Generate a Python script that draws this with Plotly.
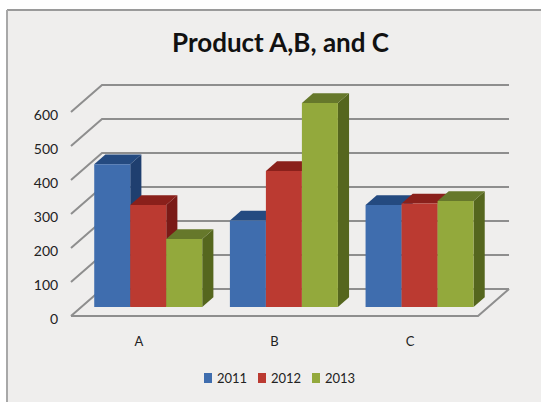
import plotly.graph_objects as go

# Sales per product and year
products = ["A", "B", "C"]
years = ["2011", "2012", "2013"]
sales_2011 = [420, 255, 300]
sales_2012 = [300, 400, 305]
sales_2013 = [200, 600, 312]
y_ticks = [0, 100, 200, 300, 400, 500, 600]

series = [sales_2011, sales_2012, sales_2013]
front_colors = ["#3F6DAE", "#BB3A31", "#93A93C"]
top_colors = ["#244A80", "#8A201B", "#66782B"]
side_colors = ["#1F3F6F", "#7A1A17", "#55661E"]
grid_color = "#8E8E8E"
text_color = "#222222"
panel_color = "#EFEEED"

W, H = 541, 402
# Oblique projection of the box: depth 0 is the front edge, depth 1 the back wall
PX_PER_CAT = 135.67
PX_PER_VAL = 0.34
DEPTH_X = 31 / PX_PER_CAT
DEPTH_Y = 27 / PX_PER_VAL
BAR_W = 36 / PX_PER_CAT
BAR_GAP = 13 / PX_PER_CAT
BAR_D0, BAR_D1 = 0.33, 0.69
L, R, T, B = 66, 515, 78, 322
ORIGIN_X, ORIGIN_Y = 71, 316
R_M = W - R
B_M = H - B


def proj(x, v, d):
    return x + d * DEPTH_X, v + d * DEPTH_Y


def polygon(points, color):
    xs, ys = zip(*[proj(*p) for p in points + points[:1]])
    return go.Scatter(x=xs, y=ys, mode="lines", fill="toself", fillcolor=color,
                      line=dict(width=0, color=color), hoverinfo="skip",
                      showlegend=False)


def line(points):
    xs, ys = zip(*[proj(*p) for p in points])
    return go.Scatter(x=xs, y=ys, mode="lines", line=dict(color=grid_color, width=2),
                      hoverinfo="skip", showlegend=False)


fig = go.Figure()
n_cat = len(products)

# Back wall gridlines and the matching diagonals on the side wall
for v in y_ticks:
    fig.add_trace(line([(0, v, 0), (0, v, 1), (n_cat, v, 1)]))
# Floor outline
fig.add_trace(line([(0, 0, 0), (n_cat, 0, 0), (n_cat, 0, 1)]))

# Bars, left to right so nearer neighbours cover the side faces
for c in range(n_cat):
    for s, values in enumerate(series):
        v = values[c]
        x0 = c + BAR_GAP + s * BAR_W
        x1 = x0 + BAR_W
        fig.add_trace(polygon([(x1, 0, BAR_D0), (x1, 0, BAR_D1), (x1, v, BAR_D1), (x1, v, BAR_D0)],
                              side_colors[s]))
        fig.add_trace(polygon([(x0, v, BAR_D0), (x1, v, BAR_D0), (x1, v, BAR_D1), (x0, v, BAR_D1)],
                              top_colors[s]))
        fig.add_trace(polygon([(x0, 0, BAR_D0), (x1, 0, BAR_D0), (x1, v, BAR_D0), (x0, v, BAR_D0)],
                              front_colors[s]))


def paper_x(px):
    return (px - L) / (W - L - R_M)


def paper_y(px):
    return (H - B_M - px) / (H - T - B_M)


# Panel behind the chart, with its darker top and left edges
shapes = [
    dict(type="rect", xref="paper", yref="paper", layer="below", line_width=0, fillcolor=panel_color,
         x0=paper_x(7), x1=paper_x(W), y0=paper_y(H), y1=paper_y(10)),
    dict(type="line", xref="paper", yref="paper", layer="below", line=dict(color="#9A9A9A", width=2),
         x0=paper_x(7), x1=paper_x(W), y0=paper_y(10), y1=paper_y(10)),
    dict(type="line", xref="paper", yref="paper", layer="below", line=dict(color="#A8A8A8", width=2),
         x0=paper_x(7), x1=paper_x(7), y0=paper_y(H), y1=paper_y(10)),
]

# Key below the chart
annotations = []
for i, (year, color) in enumerate(zip(years, front_colors)):
    sx = 204 + i * 54
    shapes.append(dict(type="rect", xref="paper", yref="paper", line_width=0, fillcolor=color,
                       x0=paper_x(sx), x1=paper_x(sx + 8), y0=paper_y(383), y1=paper_y(373)))
    annotations.append(dict(text=year, xref="paper", yref="paper", showarrow=False,
                            x=paper_x(sx + 11), y=paper_y(378), xanchor="left", yanchor="middle",
                            font=dict(family="Lato", size=13, color=text_color)))

annotations.append(dict(text="<b>Product A,B, and C</b>", xref="paper", yref="paper", showarrow=False,
                        x=paper_x(280), y=paper_y(42), xanchor="center", yanchor="middle",
                        font=dict(family="Lato", size=26, color="#111111")))

fig.update_layout(
    width=W, height=H,
    margin=dict(l=L, r=R_M, t=T, b=B_M, pad=0),
    paper_bgcolor="#FFFFFF",
    plot_bgcolor="rgba(0,0,0,0)",
    showlegend=False,
    shapes=shapes,
    annotations=annotations,
    xaxis=dict(
        range=[(L - ORIGIN_X) / PX_PER_CAT, (R - ORIGIN_X) / PX_PER_CAT],
        tickvals=[c + 0.5 for c in range(n_cat)], ticktext=products,
        showgrid=False, zeroline=False, showline=False,
        ticks="outside", ticklen=7, tickcolor="rgba(0,0,0,0)",
        tickfont=dict(family="Lato", size=13, color=text_color),
    ),
    yaxis=dict(
        range=[(ORIGIN_Y - B) / PX_PER_VAL, (ORIGIN_Y - T) / PX_PER_VAL],
        tickvals=y_ticks,
        showgrid=False, zeroline=False, showline=False,
        ticks="outside", ticklen=4, tickcolor="rgba(0,0,0,0)",
        ticklabelshift=3,
        tickfont=dict(family="Lato", size=14, color=text_color),
    ),
)

fig.write_html("out.html", config=dict(displayModeBar=False))
